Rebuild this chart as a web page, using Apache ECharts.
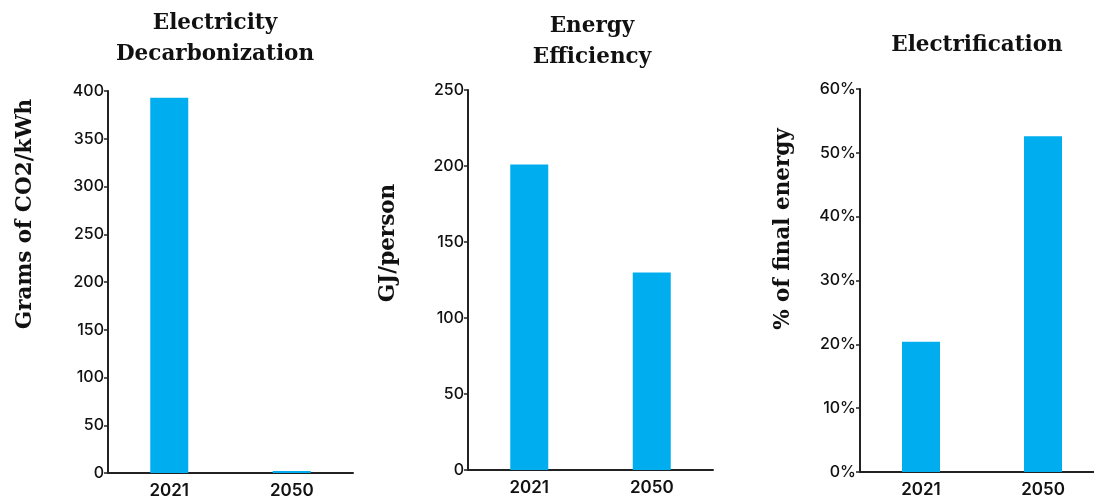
<!DOCTYPE html>
<html><head><meta charset="utf-8">
<script src="https://cdn.jsdelivr.net/npm/echarts@6/dist/echarts.min.js"></script>
<style>html,body{margin:0;padding:0;background:#fff;overflow:hidden}#c{width:1104px;height:502px}</style>
</head><body><div id="c"></div>
<script>
const categories = ['2021', '2050'];
const carbonValues = [393, 2];
const efficiencyValues = [201, 130];
const electrificationValues = [20.4, 52.6];
const titles = ['Electricity\nDecarbonization', 'Energy\nEfficiency', 'Electrification'];
const axisNames = ['Grams of CO2/kWh', 'GJ/person', '% of final energy'];

const BAR = '#00AEEF';
const INK = '#111';
const serif = '"DejaVu Serif", serif';
const sans = 'Inter, "DejaVu Sans", sans-serif';

const grids = [
  {left: 108, top: 91, width: 245, height: 382},
  {left: 468, top: 90, width: 245, height: 380},
  {left: 860, top: 89, width: 244, height: 383}
];
const yMax = [400, 250, 60];
const yInt = [50, 50, 10];
const series = [carbonValues, efficiencyValues, electrificationValues];

const chart = echarts.init(document.getElementById('c'));
const titleFont = 'bold 21.5px ' + serif;
const option = {
  animation: false,
  grid: grids,
  xAxis: grids.map((g, i) => ({
    gridIndex: i, type: 'category', data: categories,
    axisLine: {lineStyle: {color: '#222', width: 2}},
    axisTick: {show: false},
    axisLabel: {color: INK, fontFamily: sans, fontSize: 17, fontWeight: 600, margin: 9}
  })),
  yAxis: grids.map((g, i) => ({
    gridIndex: i, type: 'value', min: 0, max: yMax[i], interval: yInt[i],
    axisLine: {show: true, lineStyle: {color: '#222', width: 2}},
    axisTick: {show: true, length: 4, lineStyle: {color: '#222', width: 1.5}},
    splitLine: {show: false},
    axisLabel: {color: INK, fontFamily: sans, fontSize: 16, fontWeight: 500, margin: 4,
      formatter: i === 2 ? '{value}%' : '{value}'}
  })),
  series: series.map((d, i) => ({
    type: 'bar', xAxisIndex: i, yAxisIndex: i, data: d,
    barWidth: 38, itemStyle: {color: BAR}
  })),
  graphic: [
    {type: 'text', x: 215, y: 8, style: {text: titles[0], textAlign: 'center', fill: INK, font: titleFont, lineHeight: 31}},
    {type: 'text', x: 592, y: 11, style: {text: titles[1], textAlign: 'center', fill: INK, font: titleFont, lineHeight: 31}},
    {type: 'text', x: 977, y: 34, style: {text: titles[2], textAlign: 'center', fill: INK, font: titleFont}},
    {type: 'text', x: 25, y: 214, rotation: Math.PI / 2, style: {text: axisNames[0], textAlign: 'center', textVerticalAlign: 'middle', fill: INK, font: titleFont}},
    {type: 'text', x: 388, y: 243, rotation: Math.PI / 2, style: {text: axisNames[1], textAlign: 'center', textVerticalAlign: 'middle', fill: INK, font: titleFont}},
    {type: 'text', x: 783, y: 229, rotation: Math.PI / 2, style: {text: axisNames[2], textAlign: 'center', textVerticalAlign: 'middle', fill: INK, font: titleFont}}
  ]
};
chart.setOption(option);
</script></body></html>
